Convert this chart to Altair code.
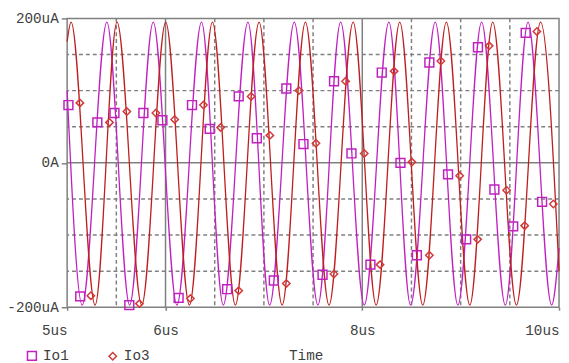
import altair as alt
import pandas as pd

# ---------------- data (time in us, current in uA) ----------------
# Io1 trace: start value, then alternating troughs / peaks, end value
io1_t = [5.000, 5.153, 5.404, 5.635, 5.875, 6.116, 6.366, 6.587, 6.838, 7.058,
         7.309, 7.549, 7.780, 8.020, 8.271, 8.491, 8.742, 8.972, 9.213, 9.454,
         9.685, 9.925, 10.000]
io1_v = [100, -197, 195, -197, 195, -197, 195, -197, 195, -197,
         195, -197, 195, -197, 195, -197, 195, -197, 195, -197,
         195, -197, -118]

# Io3 trace: start value, then alternating peaks / troughs, end value
io3_t = [5.000, 5.040, 5.284, 5.507, 5.758, 6.002, 6.243, 6.477, 6.710, 6.951,
         7.185, 7.422, 7.662, 7.907, 8.141, 8.381, 8.615, 8.855, 9.093, 9.326,
         9.567, 9.812, 10.000]
io3_v = [168, 195, -197, 195, -197, 195, -197, 195, -197, 195,
         -197, 195, -197, 195, -197, 195, -197, 195, -197, 195,
         -197, 195, -150]

# marker positions (squares on Io1, diamonds on Io3)
sq_t = [5.013, 5.133, 5.307, 5.481, 5.632, 5.775, 5.968, 6.133, 6.269, 6.449,
        6.626, 6.744, 6.928, 7.101, 7.228, 7.402, 7.596, 7.713, 7.890, 8.083,
        8.198, 8.388, 8.555, 8.682, 8.872, 9.056, 9.176, 9.343, 9.534, 9.661, 9.828]
sq_v = [80, -185, 56, 69, -197, 69, 59, -187, 80, 47,
        -175, 92, 34, -163, 103, 26, -155, 113, 13, -141,
        125, 0, -128, 139, -16, -106, 160, -37, -88, 180, -54]

dm_t = [5.130, 5.241, 5.431, 5.607, 5.735, 5.902, 6.093, 6.253, 6.386, 6.560,
        6.744, 6.870, 7.061, 7.228, 7.356, 7.529, 7.712, 7.830, 8.020, 8.181,
        8.324, 8.504, 8.682, 8.799, 8.990, 9.173, 9.290, 9.467, 9.651, 9.775, 9.942]
dm_v = [83, -184, 56, 71, -195, 69, 60, -188, 80, 49,
        -177, 92, 38, -167, 100, 27, -154, 113, 13, -141,
        127, 1, -128, 141, -18, -106, 162, -38, -87, 182, -57]

series_names = ["Io1", "Io3"]

x_ticks = [5, 6, 8, 10]
y_ticks = [-200, 0, 200]
x_grid_dashed = [5.5, 6.5, 7.0, 7.5, 8.5, 9.0, 9.5]
x_grid_solid = [6, 8]
y_grid_dashed = [-150, -100, -50, 50, 100, 150]
y_grid_solid = [0]

# ---------------- styling ----------------
MAG = "#C020C0"
RED = "#BE1E1E"
RED_MK = "#D03A3A"
GRID = "#808080"
TXT = "#404040"
FONT = "Liberation Mono"
FS = 14.5

x_scale = alt.Scale(domain=[5, 10], nice=False, zero=False)
y_scale = alt.Scale(domain=[-200, 200], nice=False)

x_axis = alt.Axis(
    values=x_ticks, labelExpr="datum.value + 'us'", title="Time",
    grid=False, domain=False, tickSize=3, tickColor=GRID, tickWidth=1.5,
    labelFont=FONT, labelFontSize=FS, labelColor=TXT, labelPadding=14,
    labelAlign={"expr": "datum.value == 5 || datum.value == 10 ? 'right' : 'center'"},
    titleFont=FONT, titleFontSize=FS, titleColor=TXT, titleFontWeight="normal",
    titleX=242, titleY=49, titleBaseline="middle", titleAlign="center",
)
y_axis = alt.Axis(
    values=y_ticks,
    labelExpr="datum.value == 0 ? '0A' : datum.value + 'uA'",
    title="", grid=False, domain=False, tickSize=6, tickColor=GRID, tickWidth=1.5,
    labelFont=FONT, labelFontSize=FS, labelColor=TXT, labelPadding=3,
)

X = lambda: alt.X("t:Q", scale=x_scale, axis=x_axis)
Y = lambda: alt.Y("v:Q", scale=y_scale, axis=y_axis)

df1 = pd.DataFrame({"t": io1_t, "v": io1_v})
df3 = pd.DataFrame({"t": io3_t, "v": io3_v})
marks = pd.concat([
    pd.DataFrame({"t": sq_t, "v": sq_v, "series": "Io1"}),
    pd.DataFrame({"t": dm_t, "v": dm_v, "series": "Io3"}),
])

def vrule(vals, dash):
    kw = dict(color=GRID, strokeWidth=1.5)
    if dash:
        kw["strokeDash"] = [4, 3]
    return alt.Chart(pd.DataFrame({"t": vals})).mark_rule(**kw).encode(x=X())

def hrule(vals, dash):
    kw = dict(color=GRID, strokeWidth=1.5)
    if dash:
        kw["strokeDash"] = [4, 3]
    return alt.Chart(pd.DataFrame({"v": vals})).mark_rule(**kw).encode(y=Y())

line1 = alt.Chart(df1).mark_line(color=MAG, strokeWidth=1.3, interpolate="monotone").encode(
    x=X(), y=Y())
line3 = alt.Chart(df3).mark_line(color=RED, strokeWidth=1.3, interpolate="monotone").encode(
    x=X(), y=Y())

points = alt.Chart(marks).mark_point(filled=False, strokeWidth=1.5, opacity=1).encode(
    x=X(), y=Y(),
    color=alt.Color("series:N", scale=alt.Scale(domain=series_names, range=[MAG, RED_MK]),
                    legend=alt.Legend(title="")),
    shape=alt.Shape("series:N", scale=alt.Scale(domain=series_names, range=["square", "diamond"]),
                    legend=alt.Legend(title="")),
    size=alt.Size("series:N", scale=alt.Scale(domain=series_names, range=[81, 56]), legend=None),
)

chart = alt.layer(
    vrule(x_grid_dashed, True), hrule(y_grid_dashed, True),
    vrule(x_grid_solid, False), hrule(y_grid_solid, False),
    line1, line3, points,
).properties(
    width=499, height=293,
    autosize=alt.AutoSizeParams(type="none"),
    padding={"left": 60, "top": 8, "right": 2, "bottom": 54},
).configure_view(
    stroke=GRID, strokeWidth=1.5
).configure_legend(
    orient="none", legendX=-43, legendY=335, direction="horizontal",
    symbolSize=64, symbolStrokeWidth=1.5, labelFont=FONT, labelFontSize=FS,
    labelColor=TXT, labelOffset=4, columnPadding=37, padding=0,
)

chart.save("out.html", embed_options={"renderer": "svg", "actions": False})
